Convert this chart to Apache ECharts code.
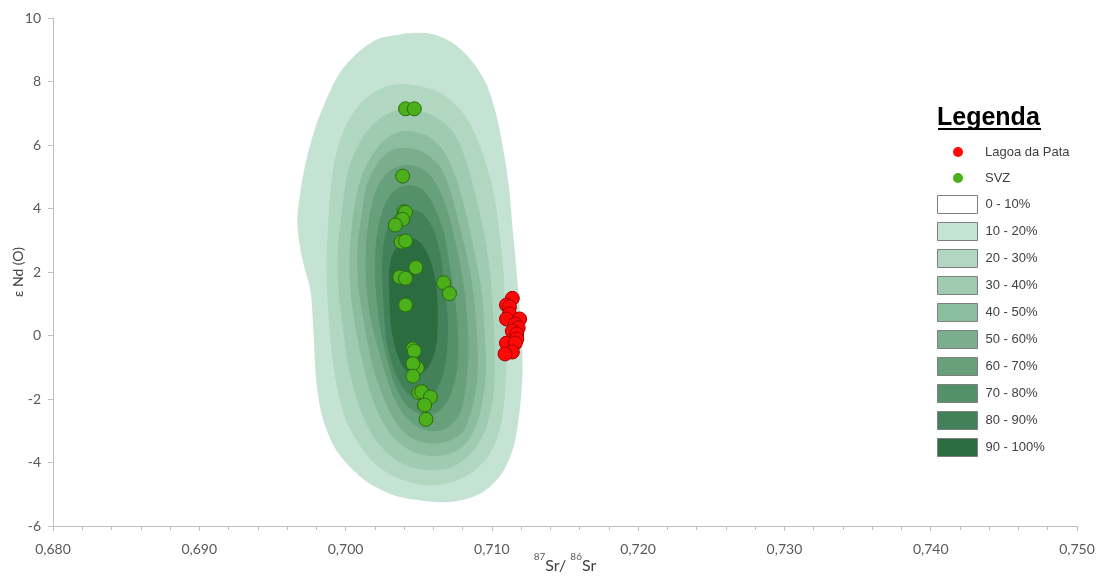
<!DOCTYPE html>
<html>
<head>
<meta charset="utf-8">
<title>εNd vs 87Sr/86Sr</title>
<script src="https://cdn.jsdelivr.net/npm/echarts@6/dist/echarts.min.js"></script>
<style>
  html, body { margin: 0; padding: 0; background: #ffffff; }
  #chart { width: 1105px; height: 579px; }
</style>
</head>
<body>
<div id="chart"></div>
<script>
// ---- axis ticks -------------------------------------------------------
const X_TICK_LABELS = ['0,680', '0,690', '0,700', '0,710', '0,720', '0,730', '0,740', '0,750'];
const Y_TICK_LABELS = ['-6', '-4', '-2', '0', '2', '4', '6', '8', '10'];

// ---- samples: [87Sr/86Sr, εNd(0)] --------------------------------------
const SVZ = [
  [0.7041, 7.14], [0.7047, 7.14],
  [0.7039, 5.02],
  [0.7040, 3.90], [0.7041, 3.88], [0.7039, 3.66], [0.7034, 3.48],
  [0.7038, 2.94], [0.7041, 2.98],
  [0.7048, 2.14],
  [0.7037, 1.84], [0.7041, 1.80],
  [0.7067, 1.66], [0.7071, 1.32],
  [0.7041, 0.96],
  [0.7046, -0.42], [0.7047, -0.49],
  [0.7049, -1.02], [0.7046, -0.89],
  [0.7046, -1.28],
  [0.7050, -1.80], [0.7052, -1.77],
  [0.7058, -1.94],
  [0.7054, -2.19],
  [0.7055, -2.64]
];

const LAGOA_DA_PATA = [
  [0.7114, 1.17], [0.7110, 0.96], [0.7112, 0.90], [0.7112, 0.68],
  [0.7110, 0.52], [0.7119, 0.52], [0.7116, 0.36], [0.7118, 0.24],
  [0.7114, 0.14], [0.7117, 0.05], [0.7117, -0.11], [0.7110, -0.24],
  [0.7116, -0.24], [0.7114, -0.52], [0.7109, -0.58]
];

// ---- SVZ density bands, outer boundary of each band [87Sr/86Sr, εNd] ---
const DENSITY_10_20 = [
  [0.7034, 9.46], [0.7045, 9.53], [0.7059, 9.50], [0.7072, 9.25], [0.7085, 8.72],
  [0.7096, 7.95], [0.7103, 6.95], [0.7108, 5.81], [0.7112, 4.55], [0.7114, 3.45],
  [0.7116, 2.50], [0.7118, 1.40], [0.7120, 0.14], [0.7121, -1.12], [0.7119, -2.38],
  [0.7115, -3.48], [0.7107, -4.33], [0.7093, -4.96], [0.7073, -5.24], [0.7054, -5.21],
  [0.7034, -5.05], [0.7017, -4.68], [0.7003, -4.14], [0.6992, -3.48], [0.6984, -2.54],
  [0.6980, -1.43], [0.6978, 0.14], [0.6976, 1.40], [0.6970, 2.50], [0.6967, 3.54],
  [0.6969, 4.49], [0.6973, 5.50], [0.6979, 6.50], [0.6987, 7.45], [0.6996, 8.27],
  [0.7008, 8.90], [0.7022, 9.34]
];
const DENSITY_20_30 = [
  [0.7041, 7.92], [0.7065, 7.64], [0.7082, 6.91], [0.7093, 5.81], [0.7101, 4.55],
  [0.7105, 3.29], [0.7108, 2.03], [0.7109, 0.77], [0.7110, -0.49], [0.7109, -1.75],
  [0.7106, -2.85], [0.7099, -3.70], [0.7086, -4.33], [0.7070, -4.65], [0.7054, -4.71],
  [0.7037, -4.52], [0.7022, -4.11], [0.7010, -3.48], [0.7000, -2.63], [0.6994, -1.59],
  [0.6990, -0.33], [0.6988, 0.93], [0.6987, 2.19], [0.6988, 3.45], [0.6990, 4.71],
  [0.6994, 5.81], [0.7002, 6.76], [0.7013, 7.45], [0.7027, 7.83]
];
const DENSITY_30_40 = [
  [0.7041, 7.13], [0.7059, 6.94], [0.7073, 6.44], [0.7082, 5.56], [0.7089, 4.39],
  [0.7095, 3.13], [0.7099, 1.87], [0.7101, 0.61], [0.7102, -0.65], [0.7101, -1.91],
  [0.7096, -2.91], [0.7086, -3.70], [0.7073, -4.14], [0.7056, -4.24], [0.7041, -4.08],
  [0.7027, -3.64], [0.7016, -2.94], [0.7008, -2.06], [0.7002, -0.96], [0.6998, 0.30],
  [0.6995, 1.56], [0.6995, 2.82], [0.6998, 4.08], [0.7002, 5.24], [0.7011, 6.19],
  [0.7025, 6.88]
];
const DENSITY_40_50 = [
  [0.7041, 6.44], [0.7056, 6.28], [0.7067, 5.81], [0.7075, 5.02], [0.7082, 3.92],
  [0.7088, 2.66], [0.7093, 1.40], [0.7095, 0.14], [0.7096, -1.12], [0.7093, -2.22],
  [0.7087, -3.07], [0.7077, -3.61], [0.7062, -3.80], [0.7048, -3.70], [0.7035, -3.32],
  [0.7025, -2.69], [0.7017, -1.81], [0.7011, -0.71], [0.7006, 0.46], [0.7003, 1.62],
  [0.7003, 2.82], [0.7006, 4.02], [0.7011, 5.02], [0.7020, 5.81], [0.7030, 6.28]
];
const DENSITY_50_60 = [
  [0.7041, 5.91], [0.7054, 5.75], [0.7065, 5.28], [0.7072, 4.49], [0.7078, 3.45],
  [0.7084, 2.28], [0.7088, 1.09], [0.7090, -0.17], [0.7090, -1.37], [0.7086, -2.38],
  [0.7080, -3.04], [0.7069, -3.35], [0.7056, -3.39], [0.7043, -3.17], [0.7033, -2.63],
  [0.7025, -1.87], [0.7018, -0.87], [0.7013, 0.30], [0.7009, 1.46], [0.7008, 2.66],
  [0.7011, 3.83], [0.7015, 4.80], [0.7023, 5.50], [0.7032, 5.84]
];
const DENSITY_60_70 = [
  [0.7042, 5.37], [0.7054, 5.21], [0.7062, 4.77], [0.7069, 4.02], [0.7075, 2.98],
  [0.7080, 1.81], [0.7083, 0.61], [0.7084, -0.55], [0.7082, -1.65], [0.7078, -2.47],
  [0.7069, -2.91], [0.7058, -3.01], [0.7047, -2.82], [0.7037, -2.31], [0.7030, -1.59],
  [0.7023, -0.55], [0.7017, 0.58], [0.7014, 1.72], [0.7014, 2.88], [0.7017, 3.92],
  [0.7022, 4.71], [0.7031, 5.21]
];
const DENSITY_70_80 = [
  [0.7043, 4.74], [0.7053, 4.58], [0.7060, 4.11], [0.7067, 3.29], [0.7071, 2.25],
  [0.7075, 1.09], [0.7077, -0.08], [0.7076, -1.12], [0.7071, -1.94], [0.7063, -2.41],
  [0.7053, -2.50], [0.7043, -2.25], [0.7035, -1.69], [0.7029, -0.87], [0.7024, 0.14],
  [0.7021, 1.24], [0.7020, 2.35], [0.7022, 3.35], [0.7027, 4.14], [0.7034, 4.58]
];
const DENSITY_80_90 = [
  [0.7044, 3.98], [0.7053, 3.83], [0.7060, 3.32], [0.7065, 2.50], [0.7068, 1.46],
  [0.7070, 0.39], [0.7069, -0.65], [0.7065, -1.46], [0.7058, -1.94], [0.7049, -2.00],
  [0.7040, -1.69], [0.7033, -1.06], [0.7028, -0.17], [0.7026, 0.93], [0.7025, 1.97],
  [0.7026, 2.88], [0.7030, 3.54], [0.7036, 3.89]
];
const DENSITY_90_100 = [
  [0.7045, 3.07], [0.7052, 2.88], [0.7058, 2.35], [0.7062, 1.56], [0.7063, 0.61],
  [0.7062, -0.30], [0.7057, -0.96], [0.7050, -1.24], [0.7041, -1.09], [0.7035, -0.55],
  [0.7031, 0.30], [0.7030, 1.24], [0.7030, 2.13], [0.7034, 2.72]
];

const LEVEL_NAMES = ['0 - 10%', '10 - 20%', '20 - 30%', '30 - 40%', '40 - 50%',
                     '50 - 60%', '60 - 70%', '70 - 80%', '80 - 90%', '90 - 100%'];
const LEVEL_RINGS = [null, DENSITY_10_20, DENSITY_20_30, DENSITY_30_40, DENSITY_40_50,
                     DENSITY_50_60, DENSITY_60_70, DENSITY_70_80, DENSITY_80_90, DENSITY_90_100];

// ---- styling ----------------------------------------------------------
const LEVEL_COLORS = ['#ffffff', '#c5e3d3', '#b1d7c1', '#9fcbb0', '#8dbd9f',
                      '#7aae8c', '#68a07b', '#54906a', '#428159', '#2b6c40'];
const AXIS_GREY = '#bfbfbf';
const LABEL_GREY = '#595959';
const X_MIN = 0.68, X_MAX = 0.75, X_STEP = 0.01;
const Y_MIN = -6, Y_MAX = 10, Y_STEP = 2;

function ringRenderer(ring) {
  return function (params, api) {
    if (params.dataIndex !== 0) return null;
    const pts = ring.map(function (p) { return api.coord(p); });
    return {
      type: 'polygon',
      shape: { points: pts, smooth: 0.3 },
      style: { fill: api.visual('color') },
      silent: true
    };
  };
}

const densitySeries = LEVEL_NAMES.map(function (name, i) {
  const ring = LEVEL_RINGS[i];
  return {
    name: name,
    type: 'custom',
    coordinateSystem: 'cartesian2d',
    data: ring ? ring : [],
    encode: { x: 0, y: 1 },
    renderItem: ring ? ringRenderer(ring) : function () { return null; },
    itemStyle: { color: LEVEL_COLORS[i] },
    silent: true,
    z: 1,
    animation: false
  };
});

const legendText = { fontFamily: 'Liberation Sans', fontSize: 13, lineHeight: 18, color: '#404040' };

const chart = echarts.init(document.getElementById('chart'), null, { renderer: 'canvas' });

chart.setOption({
  backgroundColor: '#ffffff',
  animation: false,
  grid: { left: 53, right: 28, top: 18, bottom: 53, containLabel: false, outerBoundsMode: 'none' },
  title: {
    text: 'Legenda',
    left: 937,
    top: 106,
    padding: 0,
    textStyle: { fontFamily: 'Liberation Sans', fontSize: 25, fontWeight: 'bold', color: '#000000' }
  },
  graphic: [{
    type: 'line',
    shape: { x1: 938, y1: 129, x2: 1041, y2: 129 },
    style: { stroke: '#000000', lineWidth: 2 },
    silent: true
  }],
  legend: [{
    data: ['Lagoa da Pata', 'SVZ'],
    orient: 'vertical',
    left: 953,
    top: 143,
    padding: 0,
    icon: 'circle',
    itemWidth: 10,
    itemHeight: 10,
    itemGap: 8,
    selectedMode: false,
    itemStyle: { borderWidth: 0 },
    textStyle: Object.assign({ padding: [0, 0, 0, 17] }, legendText)
  }, {
    data: LEVEL_NAMES,
    orient: 'vertical',
    left: 937,
    top: 195,
    padding: 0,
    icon: 'rect',
    itemWidth: 40,
    itemHeight: 18,
    itemGap: 8,
    selectedMode: false,
    itemStyle: { borderColor: '#7f7f7f', borderWidth: 1 },
    textStyle: Object.assign({ padding: [0, 0, 0, 3] }, legendText)
  }],
  xAxis: {
    type: 'value',
    min: X_MIN,
    max: X_MAX,
    interval: X_STEP,
    name: '{sup|87}{iso|Sr/ }{sup|86}{iso|Sr}',
    nameLocation: 'middle',
    nameGap: 26,
    nameMoveOverlap: false,
    nameTextStyle: {
      rich: {
        sup: { fontFamily: 'Lato', fontSize: 10, color: LABEL_GREY, verticalAlign: 'top', lineHeight: 22 },
        iso: { fontFamily: 'Lato', fontSize: 16, color: '#404040', verticalAlign: 'bottom', lineHeight: 22 }
      }
    },
    axisLine: { show: true, onZero: false, lineStyle: { color: AXIS_GREY, width: 1 } },
    axisTick: { show: true, inside: false, length: 5, lineStyle: { color: AXIS_GREY } },
    minorTick: { show: true, splitNumber: 5, length: 4, lineStyle: { color: AXIS_GREY } },
    axisLabel: {
      margin: 16,
      fontFamily: 'Lato',
      fontSize: 14,
      color: LABEL_GREY,
      formatter: function (v) { return X_TICK_LABELS[Math.round((v - X_MIN) / X_STEP)]; }
    },
    splitLine: { show: false },
    minorSplitLine: { show: false }
  },
  yAxis: {
    type: 'value',
    min: Y_MIN,
    max: Y_MAX,
    interval: Y_STEP,
    name: 'ε Nd (O)',
    nameLocation: 'middle',
    nameRotate: 90,
    nameGap: 28,
    nameMoveOverlap: false,
    nameTextStyle: { fontFamily: 'Lato', fontSize: 14, color: '#404040' },
    axisLine: { show: true, onZero: false, lineStyle: { color: AXIS_GREY, width: 1 } },
    axisTick: { show: true, inside: false, length: 5, lineStyle: { color: AXIS_GREY } },
    axisLabel: {
      margin: 12,
      fontFamily: 'Lato',
      fontSize: 14,
      color: LABEL_GREY,
      formatter: function (v) { return Y_TICK_LABELS[Math.round((v - Y_MIN) / Y_STEP)]; }
    },
    splitLine: { show: false }
  },
  series: densitySeries.concat([{
    name: 'SVZ',
    type: 'scatter',
    data: SVZ,
    symbol: 'circle',
    symbolSize: 14,
    itemStyle: { color: '#4cb01b', borderColor: '#2c6a10', borderWidth: 1, opacity: 1 },
    z: 3,
    animation: false
  }, {
    name: 'Lagoa da Pata',
    type: 'scatter',
    data: LAGOA_DA_PATA,
    symbol: 'circle',
    symbolSize: 14,
    itemStyle: { color: '#ff0808', borderColor: '#a80000', borderWidth: 1, opacity: 1 },
    z: 3,
    animation: false
  }])
});
</script>
</body>
</html>
